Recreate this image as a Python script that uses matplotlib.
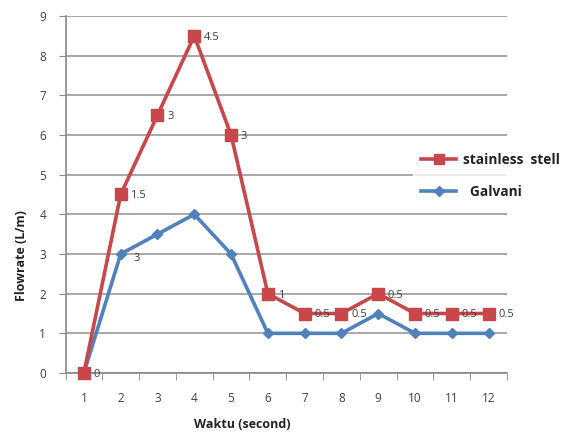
import matplotlib
matplotlib.use("Agg")
import matplotlib.pyplot as plt
from matplotlib.lines import Line2D

# Flow rate measurements per second
waktu = [1, 2, 3, 4, 5, 6, 7, 8, 9, 10, 11, 12]
stainless = [0, 4.5, 6.5, 8.5, 6, 2, 1.5, 1.5, 2, 1.5, 1.5, 1.5]
galvani = [0, 3, 3.5, 4, 3, 1, 1, 1, 1.5, 1, 1, 1]
# Difference between the two pipes, written beside the stainless points
selisih = ["0", "1.5", "3", "4.5", "3", "1", "0.5", "0.5", "0.5", "0.5", "0.5", "0.5"]
y_ticks = list(range(0, 10))

RED = "#C8474A"
BLUE = "#4F81BD"
TXT = "#404040"
GRID = "#9a9a9a"

plt.rcParams["font.family"] = ["Open Sans", "DejaVu Sans"]

fig = plt.figure(figsize=(5.67, 4.36), dpi=100)
ax = fig.add_axes([65.5 / 567, 1 - 373 / 436, (507 - 65.5) / 567, (373 - 16) / 436])

ax.set_xlim(0.5, 12.5)
ax.set_ylim(0, 9)
ax.set_yticks(y_ticks)
ax.set_yticklabels([str(v) for v in y_ticks], fontsize=8.5, color=TXT)
ax.set_xticks(waktu)
ax.set_xticklabels([str(v) for v in waktu], fontsize=8.5, color=TXT)
ax.set_xticks([w + 0.5 for w in [0] + waktu], minor=True)
ax.tick_params(axis="x", which="major", length=0, pad=14)
ax.tick_params(axis="x", which="minor", length=5, color="#888888", direction="out")
ax.tick_params(axis="y", length=5, color="#888888", pad=9)

ax.grid(axis="y", color=GRID, linewidth=1.2)
ax.set_axisbelow(True)
for s in ["top", "right"]:
    ax.spines[s].set_visible(False)
for s in ["left", "bottom"]:
    ax.spines[s].set_color("#888888")
    ax.spines[s].set_linewidth(1.2)

ax.plot(waktu, galvani, color=BLUE, linewidth=2.6, marker="D", markersize=5.5,
        markerfacecolor=BLUE, markeredgecolor=BLUE, zorder=3, clip_on=False)
ax.plot(waktu, stainless, color=RED, linewidth=2.6, marker="s", markersize=8,
        markerfacecolor=RED, markeredgecolor=RED, zorder=4, clip_on=False)

for x, y, t in zip(waktu, stainless, selisih):
    ax.annotate(t, (x, y), xytext=(7, -1), textcoords="offset points",
                fontsize=8, color=TXT, va="center", ha="left", zorder=5)
ax.annotate("3", (waktu[1], galvani[1]), xytext=(9, -3), textcoords="offset points",
            fontsize=8, color=TXT, va="center", ha="left", zorder=5)

ax.set_ylabel("Flowrate (L/m)", fontsize=9, fontweight="bold", color="#222222")
ax.yaxis.set_label_coords(-0.085, 0.33)
ax.set_xlabel("Waktu (second)", fontsize=9, fontweight="bold", color="#222222")
ax.xaxis.set_label_coords(0.4, -0.125)

handles = [
    Line2D([], [], color=RED, linewidth=2.6, marker="s", markersize=7),
    Line2D([], [], color=BLUE, linewidth=2.6, marker="D", markersize=5),
]
leg = fig.legend(handles, ["stainless  stell", "  Galvani"], loc="upper left",
                 bbox_to_anchor=(406 / 567, 1 - 138 / 436), frameon=True,
                 fontsize=9.8, handlelength=2.6, labelspacing=1.3, borderpad=0.6,
                 handletextpad=0.5)
leg.get_frame().set_facecolor("white")
leg.get_frame().set_edgecolor("white")
for t in leg.get_texts():
    t.set_fontweight("bold")
    t.set_color("#222222")

fig.savefig("out.png", dpi=100, facecolor="white")
